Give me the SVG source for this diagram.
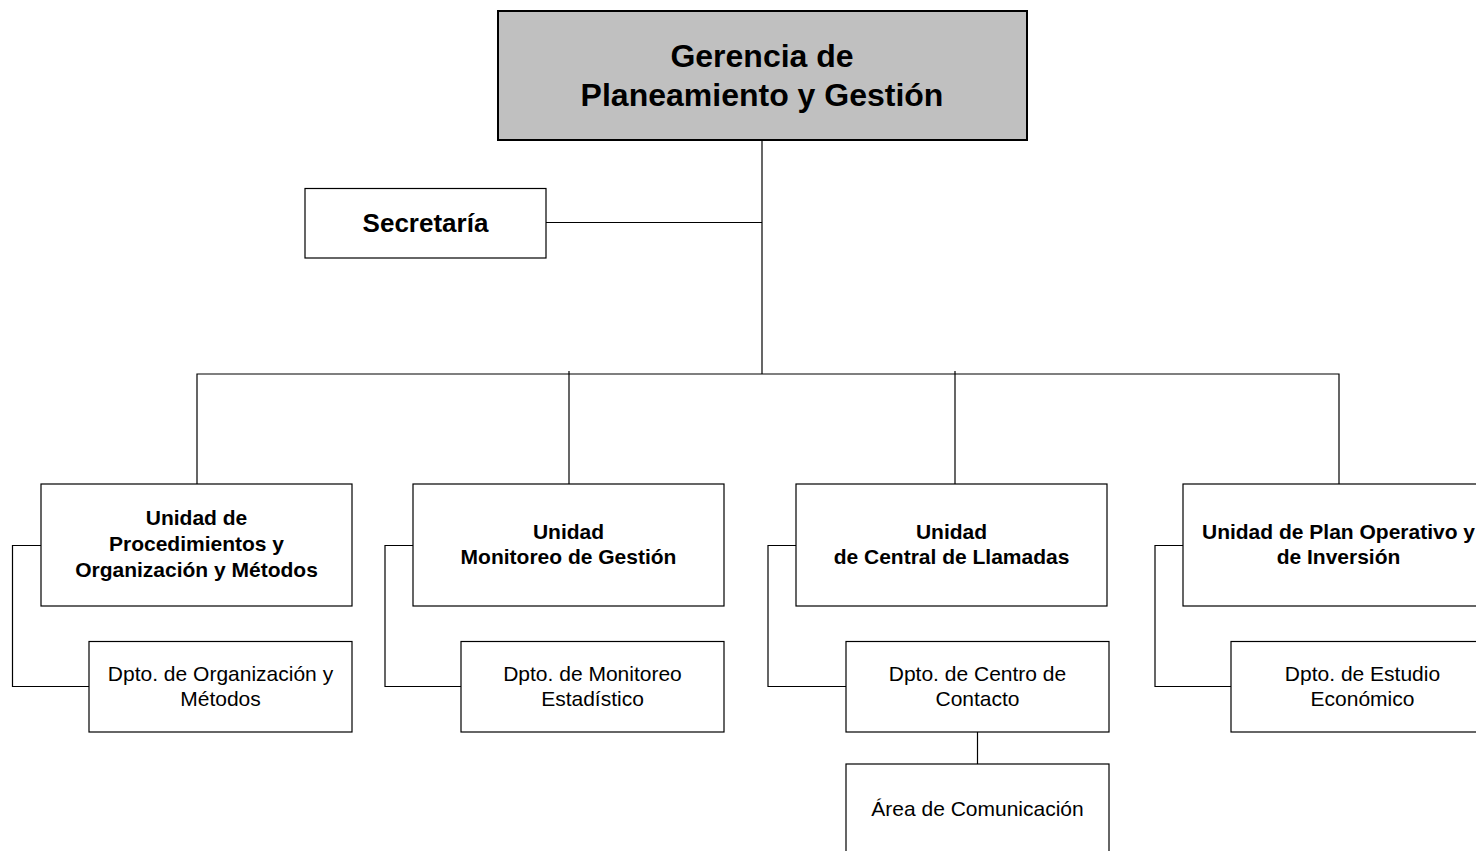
<svg xmlns="http://www.w3.org/2000/svg" width="1476" height="851" viewBox="0 0 1476 851">
<style>
.box{fill:#fff;stroke:#000;stroke-width:1.2}
.main{fill:#c0c0c0;stroke:#000;stroke-width:2}
.ln{fill:none;stroke:#000;stroke-width:1.2}
.t{font-family:"Liberation Sans",Arial,sans-serif;text-anchor:middle;fill:#000}
.b{font-weight:bold;font-size:21px}
.r{font-size:21px}
</style>
<rect width="1476" height="851" fill="#fff"/>
<g id="connectors">
<path class="ln" d="M762 140V374" stroke-width="1.6"/>
<path class="ln" d="M546 222.5H762"/>
<path class="ln" d="M197 484V374H1339V484"/>
<path class="ln" d="M569 371V484"/>
<path class="ln" d="M955 371V484"/>
<path class="ln" d="M41 545.5H12.5V686.5H89"/>
<path class="ln" d="M413 545.5H385V686.5H461"/>
<path class="ln" d="M796 545.5H768V686.5H846"/>
<path class="ln" d="M1183 545.5H1155V686.5H1231"/>
<path class="ln" d="M977.5 732V764"/>
</g>
<g id="gerencia">
<rect class="main" x="498" y="11" width="529" height="129"/>
<text class="t" font-weight="bold" font-size="32" x="762" y="67">Gerencia de</text>
<text class="t" font-weight="bold" font-size="32" x="762" y="106">Planeamiento y Gestión</text>
</g>
<g id="secretaria">
<rect class="box" x="305" y="188.5" width="241" height="69.5"/>
<text class="t" font-weight="bold" font-size="26" x="425.5" y="232">Secretaría</text>
</g>
<g id="unidad-procedimientos">
<rect class="box" x="41" y="484" width="311" height="122"/>
<text class="t b" x="196.5" y="525">Unidad de</text>
<text class="t b" x="196.5" y="551">Procedimientos y</text>
<text class="t b" x="196.5" y="577">Organización y Métodos</text>
</g>
<g id="unidad-monitoreo">
<rect class="box" x="413" y="484" width="311" height="122"/>
<text class="t b" x="568.5" y="539">Unidad</text>
<text class="t b" x="568.5" y="564">Monitoreo de Gestión</text>
</g>
<g id="unidad-central">
<rect class="box" x="796" y="484" width="311" height="122"/>
<text class="t b" x="951.5" y="539">Unidad</text>
<text class="t b" x="951.5" y="564">de Central de Llamadas</text>
</g>
<g id="unidad-plan">
<rect class="box" x="1183" y="484" width="311" height="122"/>
<text class="t b" x="1338.5" y="539">Unidad de Plan Operativo y</text>
<text class="t b" x="1338.5" y="564">de Inversión</text>
</g>
<g id="dpto-organizacion">
<rect class="box" x="89" y="641.5" width="263" height="90.5"/>
<text class="t r" x="220.5" y="680.5">Dpto. de Organización y</text>
<text class="t r" x="220.5" y="706">Métodos</text>
</g>
<g id="dpto-monitoreo">
<rect class="box" x="461" y="641.5" width="263" height="90.5"/>
<text class="t r" x="592.5" y="680.5">Dpto. de Monitoreo</text>
<text class="t r" x="592.5" y="706">Estadístico</text>
</g>
<g id="dpto-contacto">
<rect class="box" x="846" y="641.5" width="263" height="90.5"/>
<text class="t r" x="977.5" y="680.5">Dpto. de Centro de</text>
<text class="t r" x="977.5" y="706">Contacto</text>
</g>
<g id="dpto-estudio">
<rect class="box" x="1231" y="641.5" width="263" height="90.5"/>
<text class="t r" x="1362.5" y="680.5">Dpto. de Estudio</text>
<text class="t r" x="1362.5" y="706">Económico</text>
</g>
<g id="area-comunicacion">
<rect class="box" x="846" y="764" width="263" height="100"/>
<text class="t r" x="977.5" y="816">Área de Comunicación</text>
</g>
</svg>
